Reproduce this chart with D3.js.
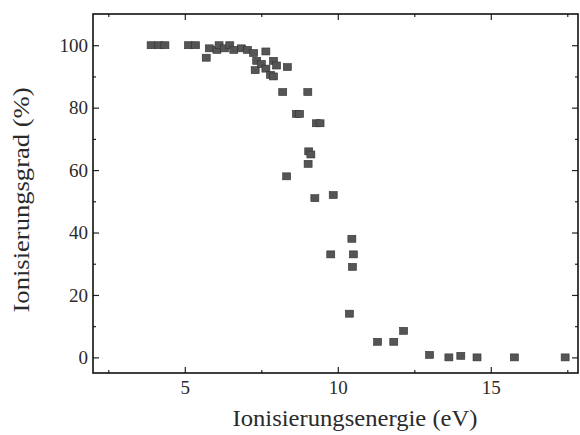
<!DOCTYPE html>
<html>
<head>
<meta charset="utf-8">
<script src="https://cdn.jsdelivr.net/npm/d3@7"></script>
<style>
  body { margin: 0; background: #fff; }
</style>
</head>
<body>
<svg id="chart" width="580" height="435"></svg>
<script>
// ionisation energy (eV) vs degree of ionisation (%)
const energy = [3.9, 4.15, 4.35, 5.12, 5.35, 5.7, 5.8, 6.05, 6.12, 6.3, 6.47, 6.6,
    6.85, 7.05, 7.25, 7.35, 7.3, 7.5, 7.65, 7.65, 7.8, 7.9, 7.9, 8.0,
    8.35, 8.2, 8.33, 9.02, 8.65, 8.75, 9.3, 9.42, 9.05, 9.12, 9.03, 9.25,
    9.85, 9.77, 10.46, 10.51, 10.48, 10.38, 11.3, 11.83, 12.15, 13.0, 13.63, 14.02,
    14.55, 15.77, 17.43]
const grade = [100, 100, 100, 100, 100, 96, 99, 98.5, 100, 99, 100, 98.5,
    99, 98.5, 97.5, 95, 92, 94, 98, 92.5, 90.5, 90, 95, 93.5,
    93, 85, 58, 85, 78, 78, 75, 75, 66, 65, 62, 51,
    52, 33, 38, 33, 29, 14, 5, 5, 8.5, 0.8, 0, 0.5,
    0, 0, 0]
const xMajor = [5, 10, 15]
const xMinor = [2.5, 7.5, 12.5, 17.5]
const yMajor = [0, 20, 40, 60, 80, 100]
const yMinor = [10, 30, 50, 70, 90]

const FONT = '"Liberation Serif"'
const svg = d3.select('#chart')
const mLeft = 93, mRight = 578, mTop = 14, mBottom = 373

const x = d3.scaleLinear().domain([2, 17.85]).range([mLeft, mRight])
const y = d3.scaleLinear().domain([-5, 110]).range([mBottom, mTop])

function drawAxis(axisFn, scale, ticks, size, labels, transform, pad) {
    const g = svg.append('g')
        .attr('transform', transform)
        .call(axisFn(scale).tickValues(ticks).tickSizeInner(-size).tickSizeOuter(0)
            .tickPadding(pad || 8).tickFormat(labels ? d3.format('d') : ''))
    g.attr('font-family', null).attr('font-size', null)
    g.select('.domain').remove()
    g.selectAll('.tick line').attr('stroke', '#222').attr('stroke-width', 1.2)
    g.selectAll('.tick text')
        .style('font-family', FONT)
        .style('font-size', '19px')
        .attr('fill', '#2a2a2a')
    return g
}

drawAxis(d3.axisBottom, x, xMajor, 6, true, `translate(0,${mBottom})`, 8)
drawAxis(d3.axisBottom, x, xMinor, 3, false, `translate(0,${mBottom})`)
drawAxis(d3.axisTop, x, xMajor, 6, false, `translate(0,${mTop})`)
drawAxis(d3.axisTop, x, xMinor, 3, false, `translate(0,${mTop})`)
drawAxis(d3.axisLeft, y, yMajor, 6, true, `translate(${mLeft},0)`, 5)
drawAxis(d3.axisLeft, y, yMinor, 3, false, `translate(${mLeft},0)`)
drawAxis(d3.axisRight, y, yMajor, 6, false, `translate(${mRight},0)`)
drawAxis(d3.axisRight, y, yMinor, 3, false, `translate(${mRight},0)`)

// frame
svg.append('rect')
    .attr('x', mLeft).attr('y', mTop)
    .attr('width', mRight - mLeft).attr('height', mBottom - mTop)
    .attr('fill', 'none').attr('stroke', '#111').attr('stroke-width', 1.6)

// markers
const pts = energy.map((e, i) => ({ e: e, g: grade[i] }))
svg.append('g').selectAll('rect')
    .data(pts)
    .enter()
    .append('rect')
    .attr('x', d => x(d.e) - 4)
    .attr('y', d => y(d.g) - 3.5)
    .attr('width', 8)
    .attr('height', 7)
    .attr('fill', '#555')
    .attr('stroke', '#333')
    .attr('stroke-width', 0.6)

svg.append('text')
    .attr('x', 355).attr('y', 426)
    .attr('text-anchor', 'middle')
    .attr('textLength', 245)
    .attr('lengthAdjust', 'spacingAndGlyphs')
    .style('font-family', FONT)
    .style('font-size', '23px')
    .attr('fill', '#2a2a2a')
    .text('Ionisierungsenergie (eV)')

svg.append('text')
    .attr('transform', 'translate(29,200) rotate(-90)')
    .attr('text-anchor', 'middle')
    .attr('textLength', 225)
    .attr('lengthAdjust', 'spacingAndGlyphs')
    .style('font-family', FONT)
    .style('font-size', '24px')
    .attr('fill', '#2a2a2a')
    .text('Ionisierungsgrad (%)')
</script>
</body>
</html>
